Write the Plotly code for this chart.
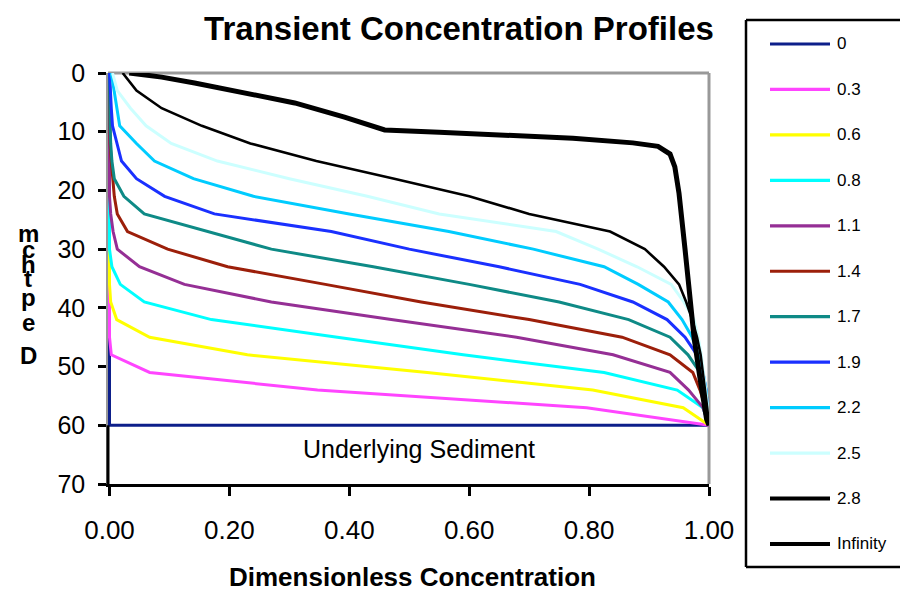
import plotly.graph_objects as go

# Depth nodes (cm) shared by the transient profiles
depth = [0, 3, 6, 9, 12, 15, 18, 21, 24, 27, 30, 33, 36, 39, 42, 45, 48, 51, 54, 57, 60]

# Initial condition
conc_0 = [0.0, 0.0, 1.0]
depth_0 = [0, 60, 60]

# Dimensionless concentration at each depth node for each time
conc_03 = [0, 0, 0, 0, 0, 0, 0, 0, 0, 0, 0, 0, 0, 0, 0, 0, 0.003, 0.067, 0.347, 0.796, 1.0]
conc_06 = [0, 0, 0, 0, 0, 0, 0, 0, 0, 0, 0, 0, 0, 0.002, 0.012, 0.067, 0.23, 0.53, 0.806, 0.957, 1.0]
conc_08 = [0, 0, 0, 0, 0, 0, 0, 0, 0, 0, 0, 0.004, 0.018, 0.058, 0.17, 0.38, 0.59, 0.825, 0.947, 0.99, 1.0]
conc_11 = [0, 0, 0, 0, 0, 0, 0, 0, 0.002, 0.006, 0.013, 0.05, 0.125, 0.27, 0.47, 0.679, 0.84, 0.935, 0.966, 0.99, 1.0]
conc_14 = [0, 0, 0, 0, 0.001, 0.003, 0.005, 0.008, 0.013, 0.03, 0.097, 0.197, 0.36, 0.52, 0.70, 0.855, 0.935, 0.973, 0.985, 0.994, 1.0]
conc_17 = [0, 0, 0, 0.001, 0.002, 0.004, 0.008, 0.024, 0.058, 0.165, 0.27, 0.44, 0.60, 0.75, 0.866, 0.935, 0.965, 0.985, 0.993, 0.997, 1.0]
conc_19 = [0, 0.001, 0.003, 0.005, 0.012, 0.02, 0.045, 0.092, 0.175, 0.37, 0.50, 0.65, 0.785, 0.873, 0.93, 0.96, 0.98, 0.99, 0.995, 0.998, 1.0]
conc_22 = [0.003, 0.008, 0.012, 0.017, 0.045, 0.075, 0.14, 0.24, 0.40, 0.566, 0.707, 0.825, 0.882, 0.932, 0.955, 0.972, 0.982, 0.99, 0.995, 0.998, 1.0]
conc_25 = [0.005, 0.013, 0.035, 0.061, 0.103, 0.18, 0.30, 0.43, 0.55, 0.745, 0.815, 0.88, 0.937, 0.958, 0.975, 0.982, 0.987, 0.991, 0.995, 0.998, 1.0]
conc_28 = [0.022, 0.045, 0.087, 0.154, 0.235, 0.345, 0.475, 0.60, 0.70, 0.835, 0.893, 0.925, 0.95, 0.962, 0.972, 0.98, 0.986, 0.99, 0.994, 0.997, 1.0]

# Steady-state profile
conc_inf = [0.033, 0.087, 0.142, 0.225, 0.309, 0.392, 0.459, 0.55, 0.66, 0.773, 0.873, 0.915,
            0.935, 0.943, 0.950, 0.957, 0.960, 0.966, 0.975, 0.985, 0.996, 1.0]
depth_inf = [0, 0.7, 1.7, 3.4, 5.1, 7.5, 9.7, 10.1, 10.6, 11.1, 11.9, 12.5,
             13.8, 16, 20.5, 26.2, 30, 36, 45, 52, 59, 60]

labels = ["0", "0.3", "0.6", "0.8", "1.1", "1.4", "1.7", "1.9", "2.2", "2.5", "2.8", "Infinity"]
colors = ["#0d1f8a", "#ff45ff", "#ffff00", "#00ffff", "#952f95", "#9c1f0a",
          "#0e8a86", "#1a30ff", "#00ccff", "#ccffff", "#000000", "#000000"]
widths = [3, 3, 3, 3, 3, 3, 3, 3, 3, 3, 2.6, 5]

xs = [conc_0, conc_03, conc_06, conc_08, conc_11, conc_14, conc_17, conc_19,
      conc_22, conc_25, conc_28, conc_inf]
ys = [depth_0] + [depth] * 10 + [depth_inf]

FONT = "Liberation Sans, Arial, sans-serif"

fig = go.Figure()
for name, x, y, col, w in zip(labels, xs, ys, colors, widths):
    fig.add_trace(go.Scatter(x=x, y=y, mode="lines", name=name,
                             line=dict(color=col, width=w), showlegend=False,
                             hoverinfo="x+y+name"))

# Page geometry (pixels)
W, H = 900, 593
ML, MR, MT, MB = 108, 191, 73, 109
PW, PH = W - ML - MR, H - MT - MB


def px_x(px):
    return (px - ML) / PW


def px_y(py):
    return (H - MB - py) / PH


frame = dict(color="black", width=2.5)
shapes = [
    # plot-area frame: grey top and right edges
    dict(type="line", xref="x domain", yref="y domain", x0=0, x1=1, y0=1, y1=1,
         line=dict(color="#999999", width=3), layer="below"),
    dict(type="line", xref="x domain", yref="y domain", x0=1, x1=1, y0=0, y1=1,
         line=dict(color="#999999", width=3), layer="below"),
    # black left edge of the sediment layer
    dict(type="line", xref="x domain", yref="y", x0=0, x1=0, y0=60, y1=70,
         line=dict(color="black", width=3)),
    # legend frame, open at the right edge of the page
    dict(type="line", xref="paper", yref="paper", x0=px_x(746), x1=px_x(900),
         y0=px_y(20), y1=px_y(20), line=frame),
    dict(type="line", xref="paper", yref="paper", x0=px_x(746), x1=px_x(900),
         y0=px_y(567), y1=px_y(567), line=frame),
    dict(type="line", xref="paper", yref="paper", x0=px_x(746), x1=px_x(746),
         y0=px_y(20), y1=px_y(567), line=frame),
]

annotations = [
    dict(text="Underlying Sediment", xref="x", yref="y", x=0.516, y=64.05,
         showarrow=False, font=dict(family=FONT, size=25, color="black"),
         xanchor="center", yanchor="middle"),
    dict(text="Dimensionless Concentration", xref="paper", yref="paper",
         x=px_x(412), y=px_y(577), showarrow=False,
         font=dict(family=FONT, size=26, color="black", weight="bold"),
         xanchor="center", yanchor="middle"),
]

# Legend entries
for i, (name, col, w) in enumerate(zip(labels, colors, widths)):
    yy = px_y(44 + i * 45.45)
    shapes.append(dict(type="line", xref="paper", yref="paper",
                       x0=px_x(770), x1=px_x(830), y0=yy, y1=yy,
                       line=dict(color=col, width=4 if i >= 10 else 3.2)))
    annotations.append(dict(text=name, xref="paper", yref="paper", x=px_x(835), y=yy,
                            showarrow=False, xanchor="left", yanchor="middle",
                            font=dict(family=FONT, size=17, color="black")))

# Stacked vertical axis title
for ch, py in [("m", 233), ("c", 249), ("h", 264), ("t", 278), ("p", 297), ("e", 322), ("D", 355)]:
    annotations.append(dict(text=ch, xref="paper", yref="paper", x=px_x(28), y=px_y(py),
                            showarrow=False, xanchor="center", yanchor="middle",
                            font=dict(family=FONT, size=24, color="black", weight="bold")))

fig.update_layout(
    width=W, height=H, autosize=False,
    margin=dict(l=ML, r=MR, t=MT, b=MB, pad=0),
    paper_bgcolor="white", plot_bgcolor="white",
    title=dict(text="Transient Concentration Profiles", x=459 / W, xref="container",
               y=1 - 28 / H, yref="container", xanchor="center", yanchor="middle",
               font=dict(family=FONT, size=33, color="black", weight="bold")),
    xaxis=dict(range=[-0.0025, 1.0], tick0=0, dtick=0.2, tickformat=".2f",
               showline=True, linecolor="black", linewidth=3,
               ticks="outside", ticklen=9, tickwidth=2.5, tickcolor="black",
               tickfont=dict(family=FONT, size=26, color="black"),
               ticklabelstandoff=12, showgrid=False, zeroline=False,
               layer="below traces"),
    yaxis=dict(range=[70, 0], tick0=0, dtick=10,
               showline=True, linecolor="#999999", linewidth=1.5,
               ticks="outside", ticklen=8, tickwidth=2.5, tickcolor="black",
               tickfont=dict(family=FONT, size=25, color="black"),
               ticklabelstandoff=8, showgrid=False, zeroline=False,
               layer="below traces"),
    shapes=shapes,
    annotations=annotations,
    showlegend=False,
)

fig.write_html("out.html")
